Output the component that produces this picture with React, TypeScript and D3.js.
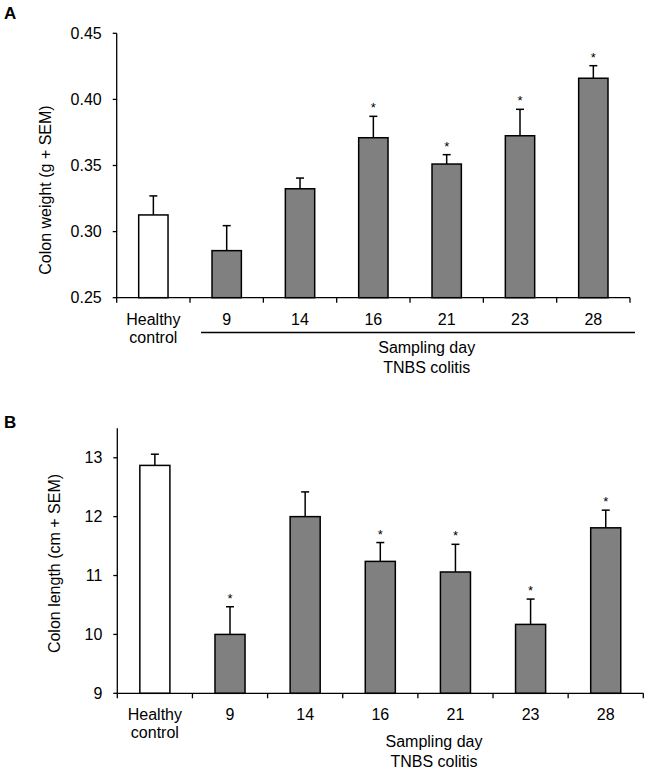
import React from 'react';
import * as d3 from 'd3';

const categories = ['Healthy control', '9', '14', '16', '21', '23', '28'];

const weightMeans = [0.3126, 0.2856, 0.3324, 0.371, 0.3511, 0.3725, 0.416];
const weightSem = [0.0144, 0.0189, 0.0081, 0.0162, 0.0071, 0.02, 0.0095];
const weightSig = [false, false, false, true, true, true, true];
const weightTicks = [0.25, 0.3, 0.35, 0.4, 0.45];

const lengthMeans = [12.87, 10.0, 12.0, 11.24, 11.06, 10.17, 11.81];
const lengthSem = [0.19, 0.47, 0.42, 0.32, 0.47, 0.43, 0.3];
const lengthSig = [false, true, false, true, true, true, true];
const lengthTicks = [9, 10, 11, 12, 13];

const FONT = 'Liberation Sans, Arial, sans-serif';

type PanelProps = {
  letter: string;
  letterY: number;
  means: number[];
  sem: number[];
  sig: boolean[];
  ticks: number[];
  fmt: (v: number) => string;
  domain: [number, number];
  xRange: [number, number];
  yRange: [number, number];
  axisTop: number;
  yLabel: string;
  yLabelX: number;
  yLabelY: number;
  catBaseline: number;
  groupLine: number | null;
  groupX: number;
  groupBaseline: number;
};

function Panel(p: PanelProps) {
  const x = d3.scaleBand<string>().domain(categories).range(p.xRange).paddingInner(0.6).paddingOuter(0.3);
  const y = d3.scaleLinear().domain(p.domain).range(p.yRange);
  const step = x.step();
  const bw = x.bandwidth();
  const x0 = p.xRange[0];
  const yb = p.yRange[0];
  const boundaries = d3.range(categories.length + 1).map((i) => x0 + i * step);
  return (
    <g fontFamily={FONT}>
      <text x={4} y={p.letterY} fontSize={17} fontWeight="bold">{p.letter}</text>
      {/* bars */}
      {categories.map((c, i) => {
        const top = y(p.means[i]);
        const errTop = y(p.means[i] + p.sem[i]);
        const cx = (x(c) as number) + bw / 2;
        return (
          <g key={c}>
            <line x1={cx} x2={cx} y1={top} y2={errTop} stroke="#000" strokeWidth={1.5} />
            <line x1={cx - 4} x2={cx + 4} y1={errTop} y2={errTop} stroke="#000" strokeWidth={1.5} />
            <rect x={x(c)} y={top} width={bw} height={yb - top} fill={i === 0 ? '#fff' : '#808080'} stroke="#000" strokeWidth={1.5} />
            {p.sig[i] && (
              <text x={cx} y={errTop - 4} fontSize={13} textAnchor="middle">*</text>
            )}
          </g>
        );
      })}
      {/* y axis */}
      <line x1={x0} x2={x0} y1={p.axisTop} y2={yb} stroke="#000" strokeWidth={1.3} />
      {p.ticks.map((t) => (
        <g key={t}>
          <line x1={x0 - 4} x2={x0} y1={y(t)} y2={y(t)} stroke="#000" strokeWidth={1.3} />
          <text x={x0 - 15} y={y(t) + 5.5} fontSize={16} textAnchor="end">{p.fmt(t)}</text>
        </g>
      ))}
      {/* x axis */}
      <line x1={x0} x2={p.xRange[1]} y1={yb} y2={yb} stroke="#000" strokeWidth={1.3} />
      {boundaries.map((b, i) => (
        <line key={i} x1={b} x2={b} y1={yb} y2={yb + 5} stroke="#000" strokeWidth={1.3} />
      ))}
      {categories.map((c, i) => {
        const cx = (x(c) as number) + bw / 2;
        const parts = c.split(' ');
        return (
          <text key={c} x={cx} y={p.catBaseline} fontSize={16} textAnchor="middle">
            {parts.map((s, j) => (
              <tspan key={j} x={cx} dy={j === 0 ? 0 : 18.5}>{s}</tspan>
            ))}
          </text>
        );
      })}
      {p.groupLine !== null && (
        <line x1={x0 + step * 1.15} x2={p.xRange[1] + 5} y1={p.groupLine} y2={p.groupLine} stroke="#000" strokeWidth={1.3} />
      )}
      <text x={p.groupX} y={p.groupBaseline} fontSize={16} textAnchor="middle">
        <tspan x={p.groupX}>Sampling day</tspan>
        <tspan x={p.groupX} dy={19.5}>TNBS colitis</tspan>
      </text>
      <text transform={`translate(${p.yLabelX},${p.yLabelY}) rotate(-90)`} fontSize={16} textAnchor="middle">{p.yLabel}</text>
    </g>
  );
}

export default function App() {
  return (
    <svg width={648} height={771} style={{ position: 'absolute', left: 0, top: 0, background: '#fff' }}>
      <rect width={648} height={771} fill="#fff" />
      <Panel
        letter="A"
        letterY={18.5}
        means={weightMeans}
        sem={weightSem}
        sig={weightSig}
        ticks={weightTicks}
        fmt={d3.format('.2f')}
        domain={[0.25, 0.45]}
        xRange={[116.7, 630]}
        yRange={[297.7, 33.3]}
        axisTop={33.3}
        yLabel="Colon weight (g + SEM)"
        yLabelX={51}
        yLabelY={190}
        catBaseline={324.5}
        groupLine={332.5}
        groupX={426.7}
        groupBaseline={353}
      />
      <Panel
        letter="B"
        letterY={428}
        means={lengthMeans}
        sem={lengthSem}
        sig={lengthSig}
        ticks={lengthTicks}
        fmt={d3.format('d')}
        domain={[9, 13.5]}
        xRange={[117.3, 643.3]}
        yRange={[693.3, 428.3]}
        axisTop={428.3}
        yLabel="Colon length (cm + SEM)"
        yLabelX={60}
        yLabelY={563.5}
        catBaseline={719.5}
        groupLine={null}
        groupX={434}
        groupBaseline={747}
      />
    </svg>
  );
}
